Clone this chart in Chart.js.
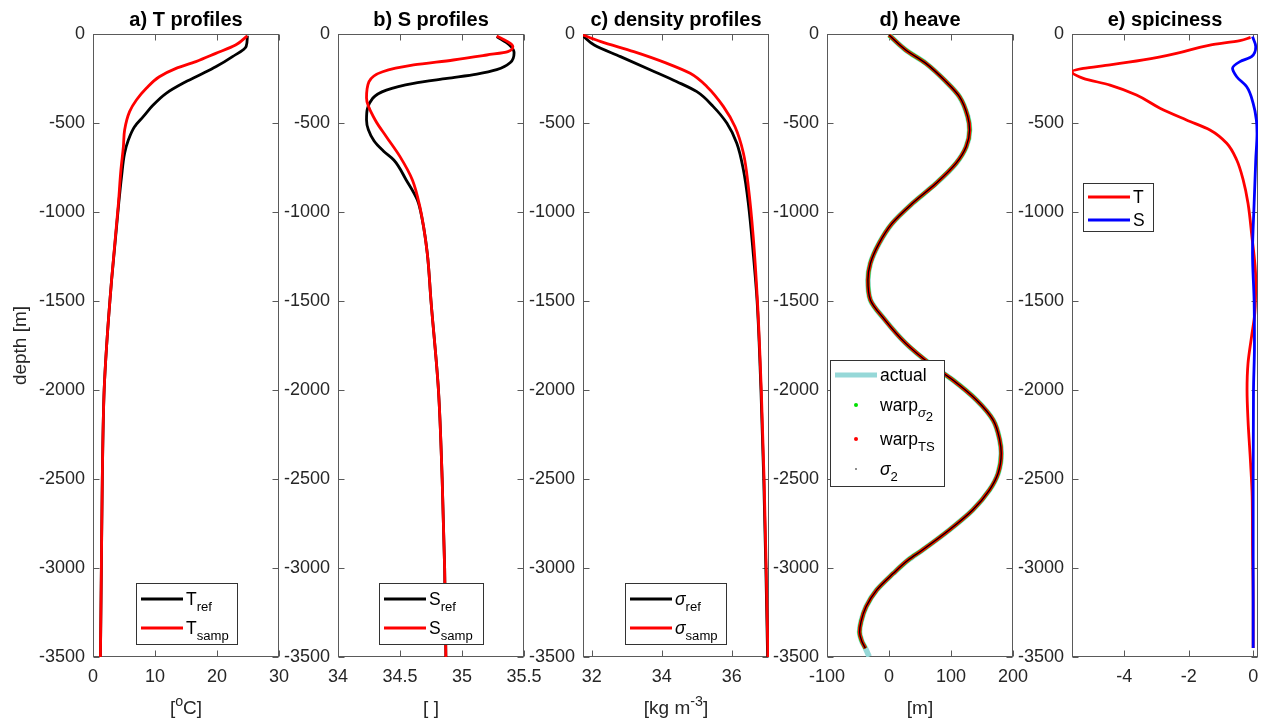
<!DOCTYPE html>
<html>
<head>
<meta charset="utf-8">
<script src="https://cdn.jsdelivr.net/npm/chart.js@4/dist/chart.umd.min.js"></script>
<style>
    html, body { margin: 0; padding: 0; background: #fff; }
    #wrap { position: relative; width: 1271px; height: 728px; }
    #wrap canvas { position: absolute; left: 0; top: 0; }
</style>
</head>
<body>
<div id="wrap">
    <canvas id="chartT" width="1271" height="728"></canvas>
    <canvas id="chartS" width="1271" height="728"></canvas>
    <canvas id="chartRho" width="1271" height="728"></canvas>
    <canvas id="chartHeave" width="1271" height="728"></canvas>
    <canvas id="chartSpice" width="1271" height="728"></canvas>
</div>
<script>
// ---- datos (profundidad en m, negativa hacia abajo) ----

// a) temperatura
const tRefDepth  = [-10, -70, -127, -184, -230, -277, -333, -399, -464, -521, -596, -670, -802, -970, -1382, -1750, -2000, -2500, -3000, -3500];
const tRef       = [24.9, 24.7, 22.5, 19.8, 17.2, 14.5, 11.8, 9.7, 8.1, 6.7, 5.7, 5.1, 4.6, 4.1, 3.0, 2.2, 1.8, 1.5, 1.35, 1.2];
const tSampDepth = [-10, -62, -109, -155, -193, -240, -305, -371, -436, -539, -633, -764, -951, -1382, -1750, -2000, -2500, -3000, -3500];
const tSamp      = [24.9, 23.0, 19.8, 16.6, 13.4, 10.7, 8.6, 7.0, 5.9, 5.1, 4.9, 4.5, 4.1, 3.0, 2.2, 1.8, 1.5, 1.35, 1.2];

// b) salinidad
const sRefDepth  = [-15, -60, -105, -160, -200, -225, -249, -277, -315, -361, -483, -600, -660, -708, -820, -933, -1045, -1232, -1500, -2000, -2500, -3000, -3500];
const sRef       = [35.28, 35.38, 35.42, 35.39, 35.28, 35.12, 34.88, 34.61, 34.39, 34.28, 34.23, 34.29, 34.37, 34.45, 34.55, 34.64, 34.68, 34.72, 34.75, 34.81, 34.84, 34.86, 34.87];
const sSampDepth = [-11, -40, -70, -99, -118, -146, -174, -212, -268, -360, -483, -577, -689, -820, -970, -1232, -1500, -2000, -2500, -3000, -3500];
const sSamp      = [35.28, 35.36, 35.41, 35.37, 35.2, 34.93, 34.61, 34.36, 34.25, 34.23, 34.30, 34.39, 34.5, 34.6, 34.66, 34.72, 34.75, 34.81, 34.84, 34.86, 34.87];

// c) densidad sigma
const rRefDepth  = [-11, -62, -127, -202, -268, -324, -408, -502, -614, -764, -951, -1232, -1500, -2000, -2500, -3000, -3500];
const rRef       = [31.75, 32.07, 32.82, 33.68, 34.43, 35.0, 35.47, 35.86, 36.14, 36.33, 36.47, 36.61, 36.72, 36.83, 36.91, 36.97, 37.02];
const rSampDepth = [-6, -43, -99, -165, -221, -296, -408, -521, -670, -858, -1139, -1500, -2000, -2500, -3000, -3500];
const rSamp      = [31.75, 32.26, 33.2, 34.15, 34.81, 35.29, 35.76, 36.09, 36.33, 36.47, 36.61, 36.73, 36.84, 36.92, 36.98, 37.03];

// d) heave
const heaveDepth  = [-6, -90, -165, -268, -352, -464, -539, -633, -727, -839, -951, -1064, -1176, -1288, -1382, -1494, -1600, -1738, -1850, -1944, -2056, -2169, -2281, -2356, -2468, -2562, -2674, -2787, -2899, -2955, -3030, -3124, -3218, -3300, -3360, -3410, -3451];
const heaveEst    = [0, 27, 59.5, 92, 113.6, 127, 130, 124.5, 108, 76, 38, 5, -16, -30, -34, -30, -8, 27, 65, 103, 141, 168, 178.6, 181, 176, 162, 135, 97, 54, 31, 7, -20, -37, -45, -47.5, -44, -38];
const actualDepth = [-6, -90, -165, -268, -352, -464, -539, -633, -727, -839, -951, -1064, -1176, -1288, -1382, -1494, -1600, -1738, -1850, -1944, -2056, -2169, -2281, -2356, -2468, -2562, -2674, -2787, -2899, -2955, -3030, -3124, -3218, -3300, -3360, -3410, -3451, -3498];
const heaveActual = [0, 27, 59.5, 92, 113.6, 127, 130, 124.5, 108, 76, 38, 5, -16, -30, -34, -30, -8, 27, 65, 103, 141, 168, 178.6, 181, 176, 162, 135, 97, 54, 31, 7, -20, -37, -45, -47.5, -44, -38, -32];

// e) spiciness
const spTDepth = [-19, -37, -62, -109, -146, -174, -193, -212, -249, -287, -343, -417, -483, -539, -614, -708, -820, -951, -1120, -1382, -1569, -1700, -1850, -2000, -2169, -2412, -2599, -2880, -3200, -3450];
const spT      = [-0.08, -0.41, -1.34, -2.38, -3.41, -4.44, -5.27, -5.62, -5.27, -4.44, -3.62, -2.89, -2.07, -1.34, -0.82, -0.51, -0.31, -0.16, -0.05, 0.08, 0.05, -0.05, -0.16, -0.19, -0.16, -0.08, -0.03, -0.02, 0.0, 0.0];
const spSDepth = [-15, -71, -127, -155, -193, -240, -296, -390, -483, -558, -708, -951, -1232, -1500, -1750, -2000, -2500, -3000, -3450];
const spS      = [-0.02, 0.08, -0.05, -0.41, -0.64, -0.51, -0.2, 0, 0.1, 0.12, 0.08, 0.03, -0.02, 0.03, 0.04, 0.01, 0.0, 0.0, 0.0];

// ---- layout ----
const FAMILIA = '"Liberation Sans", Arial, Helvetica, sans-serif';
const panelLeft = [93, 338, 583, 827, 1072];
const panelWidth = 186;
const plotTop = 34;
const plotBottom = 657;
const anchoEjeY = 85;   // espacio para etiquetas de profundidad
const altoEjeX = 45;    // espacio para etiquetas del eje x
const colorTexto = '#262626';

function puntos(valores, prof) {
    return valores.map((v, i) => ({ x: v, y: prof[i] }));
}

// texto con sub/superindices estilo TeX: T_{ref}, m^{-3}, ^oC
function parseRich(txt) {
    const out = [];
    let i = 0, buf = '';
    while (i < txt.length) {
        const c = txt[i];
        if (c === '^' || c === '_') {
            if (buf) { out.push({ k: '', t: buf }); buf = ''; }
            let s;
            if (txt[i + 1] === '{') {
                let d = 0, j = i + 1;
                for (; j < txt.length; j++) {
                    if (txt[j] === '{') d++;
                    else if (txt[j] === '}') { d--; if (!d) break; }
                }
                s = txt.slice(i + 2, j);
                i = j + 1;
            } else {
                s = txt[i + 1];
                i += 2;
            }
            out.push({ k: c, t: s });
        } else {
            buf += c;
            i++;
        }
    }
    if (buf) out.push({ k: '', t: buf });
    return out;
}

function fuente(t, size, weight) {
    const estilo = /σ/.test(t) ? 'italic ' : '';
    return `${estilo}${weight} ${size}px ${FAMILIA}`;
}

function richWidth(ctx, txt, size, weight, nivel = 0) {
    let w = 0;
    for (const p of parseRich(txt)) {
        if (p.k) w += richWidth(ctx, p.t, nivel === 0 ? size * 0.75 : size, weight, nivel + 1);
        else { ctx.font = fuente(p.t, size, weight); w += ctx.measureText(p.t).width; }
    }
    return w;
}

function richDraw(ctx, txt, x, y, size, weight, nivel = 0) {
    for (const p of parseRich(txt)) {
        if (p.k) {
            const dy = p.k === '^' ? -size * 0.42 : size * 0.32;
            x = richDraw(ctx, p.t, x, y + dy, nivel === 0 ? size * 0.75 : size, weight, nivel + 1);
        } else {
            ctx.font = fuente(p.t, size, weight);
            ctx.textAlign = 'left';
            ctx.textBaseline = 'alphabetic';
            ctx.fillText(p.t, x, y);
            x += ctx.measureText(p.t).width;
        }
    }
    return x;
}

// caja, ticks hacia dentro, titulos y leyenda al estilo MATLAB
const decoPlugin = {
    id: 'deco',
    beforeDatasetsDraw(chart) {
        const { ctx, chartArea: a, scales } = chart;
        ctx.save();
        ctx.strokeStyle = '#5a5a5a';
        ctx.lineWidth = 1;
        const L = Math.round(a.left) + 0.5, R = Math.round(a.right) - 0.5;
        const T = Math.round(a.top) + 0.5, B = Math.round(a.bottom) - 0.5;
        ctx.strokeRect(L, T, R - L, B - T);
        ctx.beginPath();
        scales.y.ticks.forEach(t => {
            const py = Math.round(scales.y.getPixelForValue(t.value)) + 0.5;
            ctx.moveTo(L, py); ctx.lineTo(L + 6, py);
            ctx.moveTo(R, py); ctx.lineTo(R - 6, py);
        });
        scales.x.ticks.forEach(t => {
            const px = Math.round(scales.x.getPixelForValue(t.value)) + 0.5;
            ctx.moveTo(px, B); ctx.lineTo(px, B - 6);
            ctx.moveTo(px, T); ctx.lineTo(px, T + 6);
        });
        ctx.stroke();
        ctx.restore();
    },
    afterDraw(chart, args, opts) {
        const { ctx, chartArea: a } = chart;
        const cx = (a.left + a.right) / 2;
        ctx.save();

        // titulo del panel
        ctx.fillStyle = '#000';
        const wt = richWidth(ctx, opts.titulo, 20, 'bold');
        richDraw(ctx, opts.titulo, cx - wt / 2, 26, 20, 'bold');

        // titulo eje x
        if (opts.xTitulo) {
            ctx.fillStyle = colorTexto;
            const wx = richWidth(ctx, opts.xTitulo, 19, 'normal');
            richDraw(ctx, opts.xTitulo, cx - wx / 2, 714, 19, 'normal');
        }

        // titulo eje y
        if (opts.yTitulo) {
            ctx.save();
            ctx.translate(21, (a.top + a.bottom) / 2);
            ctx.rotate(-Math.PI / 2);
            ctx.fillStyle = colorTexto;
            ctx.font = `19px ${FAMILIA}`;
            ctx.textAlign = 'center';
            ctx.textBaseline = 'middle';
            ctx.fillText(opts.yTitulo, 0, 0);
            ctx.restore();
        }

        // leyenda
        const ley = opts.leyenda;
        if (ley) {
            ctx.fillStyle = '#fff';
            ctx.fillRect(ley.x, ley.y, ley.w, ley.h);
            ctx.strokeStyle = '#333';
            ctx.lineWidth = 1;
            ctx.strokeRect(ley.x + 0.5, ley.y + 0.5, ley.w, ley.h);
            chart.data.datasets.forEach((ds, i) => {
                const cy = ley.y + ley.filas[i];
                const x0 = ley.x + 5;
                if (ds.puntoLeyenda) {
                    ctx.fillStyle = ds.borderColor;
                    ctx.beginPath();
                    ctx.arc(x0 + 21, cy, ds.puntoLeyenda, 0, Math.PI * 2);
                    ctx.fill();
                } else {
                    ctx.strokeStyle = ds.borderColor;
                    ctx.lineWidth = ds.anchoLeyenda || ds.borderWidth;
                    ctx.beginPath();
                    ctx.moveTo(x0, cy);
                    ctx.lineTo(x0 + 42, cy);
                    ctx.stroke();
                }
                ctx.fillStyle = '#000';
                richDraw(ctx, ds.label, x0 + 45, cy + 6, 17.5, 'normal');
            });
        }
        ctx.restore();
    }
};

function crearPanel(canvasId, idx, ejeX, datasets, deco) {
    const left = panelLeft[idx];
    return new Chart(document.getElementById(canvasId), {
        type: 'line',
        data: { datasets },
        options: {
            responsive: false,
            animation: false,
            events: [],
            indexAxis: 'y',   // la profundidad es el eje independiente
            layout: {
                padding: {
                    left: left - anchoEjeY,
                    right: 1271 - left - panelWidth,
                    top: plotTop,
                    bottom: 728 - plotBottom - altoEjeX
                }
            },
            elements: { point: { radius: 0 }, line: { cubicInterpolationMode: 'monotone' } },
            plugins: {
                legend: { display: false },
                tooltip: { enabled: false },
                deco: deco
            },
            scales: {
                x: {
                    type: 'linear',
                    min: ejeX.min,
                    max: ejeX.max,
                    grid: { display: false, drawTicks: false },
                    border: { display: false },
                    ticks: {
                        stepSize: ejeX.paso,
                        includeBounds: false,
                        autoSkip: false,
                        maxRotation: 0,
                        padding: 9,
                        color: colorTexto,
                        font: { family: FAMILIA, size: 18 },
                        callback: v => String(v)
                    },
                    afterFit(s) { s.height = altoEjeX; s.paddingLeft = 0; s.paddingRight = 0; }
                },
                y: {
                    type: 'linear',
                    min: -3500,
                    max: 0,
                    grid: { display: false, drawTicks: false },
                    border: { display: false },
                    ticks: {
                        stepSize: 500,
                        autoSkip: false,
                        padding: 8,
                        color: colorTexto,
                        font: { family: FAMILIA, size: 18 },
                        callback: v => String(v)
                    },
                    afterFit(s) { s.width = anchoEjeY; s.paddingTop = 0; s.paddingBottom = 0; }
                }
            }
        },
        plugins: [decoPlugin]
    });
}

document.addEventListener('DOMContentLoaded', () => {
    // a) T
    crearPanel('chartT', 0, { min: 0, max: 30, paso: 10 }, [
        { label: 'T_{ref}', data: puntos(tRef, tRefDepth), borderColor: '#000000', borderWidth: 2.8, order: 2 },
        { label: 'T_{samp}', data: puntos(tSamp, tSampDepth), borderColor: '#ff0000', borderWidth: 2.8, order: 1 }
    ], {
        titulo: 'a) T profiles', xTitulo: '[^oC]', yTitulo: 'depth [m]',
        leyenda: { x: 136, y: 583, w: 101, h: 61, filas: [16, 45] }
    });

    // b) S
    crearPanel('chartS', 1, { min: 34, max: 35.5, paso: 0.5 }, [
        { label: 'S_{ref}', data: puntos(sRef, sRefDepth), borderColor: '#000000', borderWidth: 2.8, order: 2 },
        { label: 'S_{samp}', data: puntos(sSamp, sSampDepth), borderColor: '#ff0000', borderWidth: 2.8, order: 1 }
    ], {
        titulo: 'b) S profiles', xTitulo: '[ ]',
        leyenda: { x: 379, y: 583, w: 104, h: 61, filas: [16, 45] }
    });

    // c) densidad
    crearPanel('chartRho', 2, { min: 31.75, max: 37.06, paso: 2 }, [
        { label: 'σ_{ref}', data: puntos(rRef, rRefDepth), borderColor: '#000000', borderWidth: 2.8, order: 2 },
        { label: 'σ_{samp}', data: puntos(rSamp, rSampDepth), borderColor: '#ff0000', borderWidth: 2.8, order: 1 }
    ], {
        titulo: 'c) density profiles', xTitulo: '[kg m^{-3}]',
        leyenda: { x: 625, y: 583, w: 101, h: 61, filas: [16, 45] }
    });

    // d) heave
    crearPanel('chartHeave', 3, { min: -100, max: 200, paso: 100 }, [
        { label: 'actual', data: puntos(heaveActual, actualDepth), borderColor: 'rgb(150,216,216)', borderWidth: 5.5, anchoLeyenda: 5, order: 4 },
        { label: 'warp_{σ_2}', data: puntos(heaveEst, heaveDepth), borderColor: '#00e000', borderWidth: 4.2, puntoLeyenda: 2, order: 3 },
        { label: 'warp_{TS}', data: puntos(heaveEst, heaveDepth), borderColor: '#ff0000', borderWidth: 3.5, puntoLeyenda: 2, order: 2 },
        { label: 'σ_2', data: puntos(heaveEst, heaveDepth), borderColor: '#000000', borderWidth: 1.3, puntoLeyenda: 0.8, order: 1 }
    ], {
        titulo: 'd) heave', xTitulo: '[m]',
        leyenda: { x: 830, y: 360, w: 114, h: 126, filas: [15, 45, 79, 109] }
    });

    // e) spiciness
    crearPanel('chartSpice', 4, { min: -5.62, max: 0.15, paso: 2 }, [
        { label: 'T', data: puntos(spT, spTDepth), borderColor: '#ff0000', borderWidth: 2.8, order: 2 },
        { label: 'S', data: puntos(spS, spSDepth), borderColor: '#0000ff', borderWidth: 2.8, order: 1 }
    ], {
        titulo: 'e) spiciness',
        leyenda: { x: 1083, y: 183, w: 70, h: 48, filas: [14, 37] }
    });
});
</script>
</body>
</html>
